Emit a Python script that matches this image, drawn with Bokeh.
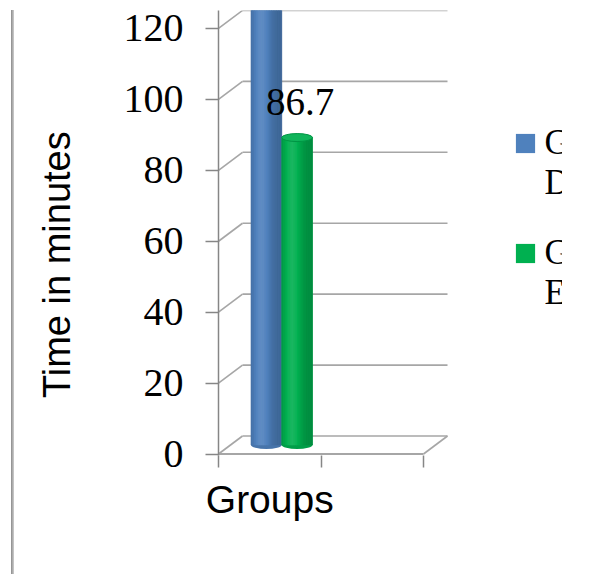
import math

from bokeh.core.properties import value
from bokeh.embed import file_html
from bokeh.models import FixedTicker, Legend, LegendItem, Range1d
from bokeh.plotting import figure
from bokeh.resources import INLINE

# ---- data -------------------------------------------------------------
category_label = "Groups"
series_names = ["Group\nD", "Group\nE"]
series_values = [150.0, 86.7]
series_colors = ["#4F81BD", "#00B050"]
y_ticks = [0, 20, 40, 60, 80, 100, 120]
n_categories = 2          # one filled group, one empty slot on the floor

# ---- layout -----------------------------------------------------------
W, H = 562, 574
LEFT, TOP, BOTTOM = 218, 10, 119
FRAME_W = W - LEFT
FRAME_H = H - TOP - BOTTOM
PX_PER_CAT = 102.5
X_END = FRAME_W / PX_PER_CAT
Y_START, Y_END = -0.42, 125.07
PX_PER_VAL = FRAME_H / (Y_END - Y_START)

# depth of the pseudo 3-D box, in pixels, converted to data units
DEPTH_X = 24 / PX_PER_CAT
DEPTH_Y = 18 / PX_PER_VAL
BAR_W = 0.3
LABEL_GAP_PX = 36

# legend entries: left edge and bottom offset inside the frame, in pixels
LEGEND_X = 294.6
LEGEND_BOTTOMS = [252, 142]

AXIS_GREY = "#868686"
GRID_GREY = "#A6A6A6"


def shade(hex_color, k):
    """Darken (k<1) or lighten (k>1) a hex colour."""
    r, g, b = (int(hex_color[i:i + 2], 16) for i in (1, 3, 5))
    if k <= 1:
        r, g, b = (int(c * k) for c in (r, g, b))
    else:
        t = k - 1
        r, g, b = (int(c + (255 - c) * t) for c in (r, g, b))
    return "#%02x%02x%02x" % (r, g, b)


p = figure(
    width=W, height=H,
    x_range=Range1d(0, X_END), y_range=Range1d(Y_START, Y_END),
    output_backend="svg", toolbar_location=None,
    min_border_left=LEFT, min_border_right=0,
    min_border_top=TOP, min_border_bottom=BOTTOM,
)
p.outline_line_color = None
p.xgrid.visible = False
p.ygrid.visible = False
p.border_fill_alpha = 0
p.background_fill_color = "white"
# thin grey rule down the left side of the page
p.styles = {
    "background": "linear-gradient(to right, #8a8a8a, #cfcfcf) 11px 10px / 3px 564px no-repeat, #ffffff",
}

# ---- y axis -----------------------------------------------------------
yax = p.yaxis[0]
yax.ticker = FixedTicker(ticks=y_ticks)
yax.axis_line_color = AXIS_GREY
yax.axis_line_width = 1.5
yax.major_tick_line_color = AXIS_GREY
yax.major_tick_line_width = 1.5
yax.major_tick_out = 13
yax.major_tick_in = 0
yax.minor_tick_line_color = None
yax.major_label_text_font = "Liberation Serif"
yax.major_label_text_font_size = "40px"
yax.major_label_text_color = "#000000"
yax.major_label_standoff = 22
# trailing no-break spaces nudge the centred title down the axis
yax.axis_label = "Time in minutes" + "\u00a0" * 6
yax.axis_label_text_font = "Liberation Sans"
yax.axis_label_text_font_size = "38px"
yax.axis_label_text_font_style = "normal"
yax.axis_label_text_color = "#000000"
yax.axis_label_standoff = 43

# ---- x axis: boundary ticks, label in the middle of the first slot ----
xax = p.xaxis[0]
xax.ticker = FixedTicker(ticks=[0.5], minor_ticks=list(range(n_categories + 1)))
xax.major_label_overrides = {0.5: category_label}
xax.axis_line_color = None
xax.major_tick_out = 0
xax.major_tick_in = 0
xax.minor_tick_line_color = AXIS_GREY
xax.minor_tick_line_width = 1.5
xax.minor_tick_out = 12
xax.minor_tick_in = 0
xax.major_label_text_font = "Liberation Sans"
xax.major_label_text_font_size = "39px"
xax.major_label_text_color = "#000000"
xax.major_label_standoff = 10

# ---- back wall gridlines and floor --------------------------------------
x_far = n_categories
p.segment([0] * len(y_ticks), y_ticks,
          [DEPTH_X] * len(y_ticks), [v + DEPTH_Y for v in y_ticks],
          line_color=GRID_GREY, line_width=1.6)
p.segment([DEPTH_X] * len(y_ticks), [v + DEPTH_Y for v in y_ticks],
          [x_far + DEPTH_X] * len(y_ticks), [v + DEPTH_Y for v in y_ticks],
          line_color=GRID_GREY, line_width=1.6)
# floor: front edge and right-hand depth edge
p.segment([0], [0], [x_far], [0], line_color=GRID_GREY, line_width=1.8)
p.segment([x_far], [0], [x_far + DEPTH_X], [DEPTH_Y], line_color=GRID_GREY, line_width=1.6)

# ---- cylinders ----------------------------------------------------------
N_STRIPS = 18
for i, (name, val, col) in enumerate(zip(series_names, series_values, series_colors)):
    xc = 0.5 + (i - 0.5) * BAR_W + DEPTH_X / 2
    y0 = DEPTH_Y / 2
    y1 = val + DEPTH_Y / 2

    # bottom cap
    p.ellipse(x=[xc], y=[y0], width=BAR_W, height=8, height_units="screen",
              fill_color=shade(col, 0.9), line_color=None)

    # flat body in the series colour (also used as the legend swatch)
    body = p.quad(left=[xc - BAR_W / 2], right=[xc + BAR_W / 2], bottom=[y0], top=[y1],
                  fill_color=col, line_color=None)

    # shading strips over the body
    lefts, rights, colors = [], [], []
    for s in range(N_STRIPS):
        t = (s + 0.5) / N_STRIPS
        k = 0.80 + 0.30 * math.exp(-((t - 0.35) / 0.3) ** 2)
        lefts.append(xc - BAR_W / 2 + s * BAR_W / N_STRIPS)
        rights.append(xc - BAR_W / 2 + (s + 1) * BAR_W / N_STRIPS)
        colors.append(shade(col, k))
    p.quad(left=lefts, right=rights, bottom=[y0] * N_STRIPS, top=[y1] * N_STRIPS,
           fill_color=colors, line_color=colors, line_width=0.6)

    # top cap
    p.ellipse(x=[xc], y=[y1], width=BAR_W, height=8, height_units="screen",
              fill_color=shade(col, 1.06), line_color=shade(col, 0.85), line_width=1)

    # value label, only where it falls inside the plotted range
    if y1 + LABEL_GAP_PX / PX_PER_VAL < Y_END - 3:
        p.text(x=[xc], y=[y1], text=[f"{val:g}"], x_offset=3, y_offset=-LABEL_GAP_PX,
               text_align="center", text_baseline="middle",
               text_font=value("Liberation Serif"), text_font_size="39px",
               text_color="#000000")

    # one legend box per series; the leading blank line keeps the
    # swatch level with the first line of the wrapped name
    legend = Legend(
        items=[LegendItem(label="\u00a0\n" + name, renderers=[body])],
        location=(LEGEND_X, LEGEND_BOTTOMS[i]), orientation="vertical",
        padding=0, margin=0, spacing=0,
        glyph_width=24, glyph_height=24, label_standoff=8,
        label_text_font="Liberation Serif", label_text_font_size="35px",
        label_text_line_height=1.25, label_text_color="#000000",
        border_line_alpha=0, background_fill_alpha=0,
    )
    p.add_layout(legend)

open("out.html", "w").write(file_html(p, INLINE))
